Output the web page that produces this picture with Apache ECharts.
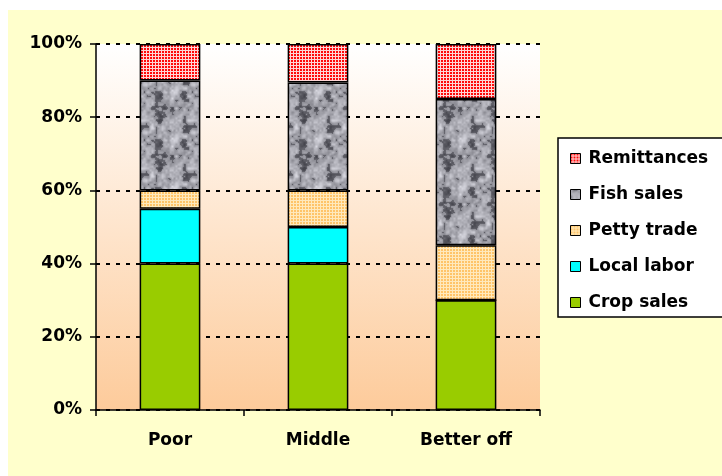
<!DOCTYPE html>
<html>
<head>
<meta charset="utf-8">
<script src="https://cdn.jsdelivr.net/npm/echarts@6/dist/echarts.min.js"></script>
<style>
  html, body { margin: 0; padding: 0; background: #fff; }
  #chart { width: 722px; height: 476px; }
</style>
</head>
<body>
<div id="chart"></div>
<script>
const categories = ['Poor', 'Middle', 'Better off'];
const cropSales = [40, 40, 30];
const localLabor = [15, 10, 0];
const pettyTrade = [5, 10, 15];
const fishSales = [30, 29.5, 40];
const remittances = [10, 10.5, 15];
const yTicks = [0, 20, 40, 60, 80, 100];

const FONT = '"DejaVu Sans", Arial, sans-serif';

// small grid pattern, like the excel fill
function gridPattern(bg, line) {
    const c = document.createElement('canvas');
    c.width = 3; c.height = 3;
    const ctx = c.getContext('2d');
    ctx.fillStyle = bg;
    ctx.fillRect(0, 0, 3, 3);
    ctx.fillStyle = line;
    ctx.fillRect(2, 0, 1, 3);
    ctx.fillRect(0, 2, 3, 1);
    return c;
}

// granite texture, deterministic value noise
function granitePattern() {
    const size = 48;
    const c = document.createElement('canvas');
    c.width = size; c.height = size;
    const ctx = c.getContext('2d');
    const img = ctx.createImageData(size, size);
    function hash(x, y, s) {
        const v = Math.sin(x * 127.1 + y * 311.7 + s * 74.7) * 43758.5453;
        return v - Math.floor(v);
    }
    function noise(x, y, cell, s) {
        const n = size / cell;
        const gx = x / cell, gy = y / cell;
        const x0 = Math.floor(gx), y0 = Math.floor(gy);
        const fx = gx - x0, fy = gy - y0;
        const sx = fx * fx * (3 - 2 * fx), sy = fy * fy * (3 - 2 * fy);
        const a = hash(x0 % n, y0 % n, s), b = hash((x0 + 1) % n, y0 % n, s);
        const cc = hash(x0 % n, (y0 + 1) % n, s), d = hash((x0 + 1) % n, (y0 + 1) % n, s);
        return (a * (1 - sx) + b * sx) * (1 - sy) + (cc * (1 - sx) + d * sx) * sy;
    }
    for (let y = 0; y < size; y++) {
        for (let x = 0; x < size; x++) {
            let v = 0.4 * noise(x, y, 8, 1) + 0.4 * noise(x, y, 4, 2) + 0.2 * noise(x, y, 2, 3);
            let g = 75 + v * 170;
            if (v < 0.38) g -= 35;
            g = Math.max(70, Math.min(230, g));
            const i = (y * size + x) * 4;
            img.data[i] = g; img.data[i + 1] = g; img.data[i + 2] = Math.min(255, g + 8); img.data[i + 3] = 255;
        }
    }
    ctx.putImageData(img, 0, 0);
    return c;
}

const remitFill = { image: gridPattern('#FF0A0A', '#FFD6D6'), repeat: 'repeat' };
const fishFill = { image: granitePattern(), repeat: 'repeat' };
const pettyFill = { image: gridPattern('#FFC468', '#FFE9BC'), repeat: 'repeat' };

function bar(name, data, color) {
    return {
        name: name,
        type: 'bar',
        stack: 'total',
        barWidth: '41%',
        data: data,
        itemStyle: { color: color, borderColor: '#000', borderWidth: 1.5 },
        emphasis: { disabled: true }
    };
}

const chart = echarts.init(document.getElementById('chart'), null, { renderer: 'canvas' });
chart.setOption({
    animation: false,
    backgroundColor: '#fff',
    graphic: [{
        type: 'rect', z: -10, silent: true,
        shape: { x: 8, y: 10, width: 714, height: 466 },
        style: { fill: '#FFFFCC' }
    }],
    grid: {
        left: 96, right: 182, top: 44, bottom: 66,
        show: true, borderWidth: 0,
        backgroundColor: new echarts.graphic.LinearGradient(0, 0, 0, 1, [
            { offset: 0, color: '#FFFFFF' },
            { offset: 1, color: '#FDCB9B' }
        ])
    },
    legend: {
        orient: 'vertical',
        left: 558, top: 138,
        padding: [12, 20, 6, 12],
        itemGap: 19,
        itemWidth: 10, itemHeight: 10,
        backgroundColor: '#fff',
        borderColor: '#000', borderWidth: 1.5,
        borderRadius: 0,
        icon: 'rect',
        itemStyle: { borderColor: '#000', borderWidth: 1 },
        textStyle: { fontFamily: FONT, fontWeight: 'bold', fontSize: 17, color: '#000', padding: [0, 0, 0, 3] },
        data: ['Remittances', 'Fish sales', 'Petty trade', 'Local labor', 'Crop sales']
    },
    xAxis: {
        type: 'category',
        data: categories,
        axisLine: { lineStyle: { color: '#000', width: 1.5 } },
        axisTick: { show: true, length: 6, lineStyle: { color: '#000', width: 1.5 } },
        axisLabel: { fontFamily: FONT, fontWeight: 'bold', fontSize: 17, color: '#000', margin: 22 }
    },
    yAxis: {
        type: 'value',
        min: yTicks[0], max: yTicks[yTicks.length - 1], interval: 20,
        axisLine: { show: true, lineStyle: { color: '#000', width: 1.5 } },
        axisTick: { show: true, length: 6, lineStyle: { color: '#000', width: 1.5 } },
        axisLabel: { formatter: '{value}%', fontFamily: FONT, fontWeight: 'bold', fontSize: 17, color: '#000', margin: 14 },
        splitLine: { show: true, lineStyle: { color: '#000', width: 2, type: [4, 6] } }
    },
    series: [
        bar('Crop sales', cropSales, '#99CC00'),
        bar('Local labor', localLabor, '#00FFFF'),
        bar('Petty trade', pettyTrade, pettyFill),
        bar('Fish sales', fishSales, fishFill),
        bar('Remittances', remittances, remitFill)
    ]
});
</script>
</body>
</html>
